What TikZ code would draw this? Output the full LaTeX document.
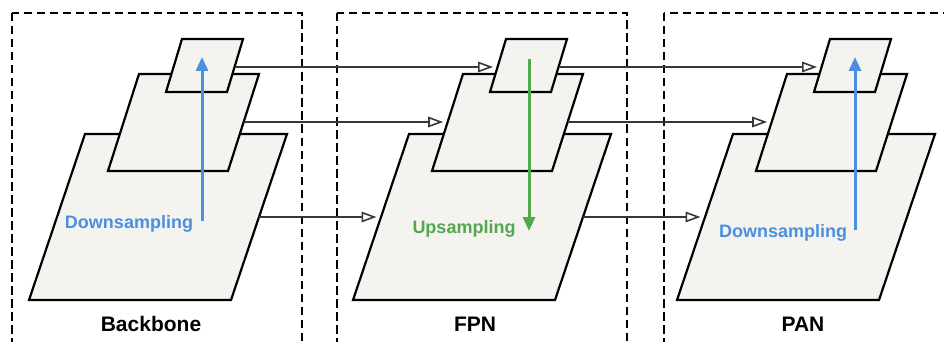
\documentclass[tikz,border=0pt]{standalone}
\usepackage{fontspec}
\setmainfont{Liberation Sans}
\usetikzlibrary{arrows.meta,calc}
\definecolor{layerfill}{HTML}{F5F3F0}
\definecolor{dsblue}{HTML}{4A8FE0}
\definecolor{usgreen}{HTML}{52A84F}
\definecolor{conn}{HTML}{383838}
\tikzset{
  layer/.style={draw=black, line width=2.2pt, fill=layerfill, line join=miter},
  panel/.style={draw=black, line width=2pt, dash pattern=on 8.5pt off 4.5pt},
  link/.style={draw=conn, line width=1.6pt, -{Triangle[open,length=15pt,width=10.5pt,fill=white]}, shorten >=4.5pt},
  flowblue/.style={draw=dsblue, line width=3pt, -{Triangle[length=14pt,width=12pt]}},
  flowgreen/.style={draw=usgreen, line width=3pt, -{Triangle[length=14pt,width=12pt]}},
  title/.style={font=\bfseries\fontsize{21}{25}\selectfont, anchor=base, inner sep=0pt},
  flowtext/.style={font=\bfseries\fontsize{18}{22}\selectfont, anchor=base, inner sep=0pt},
}
\newcommand{\featstack}[2]{%
  % large layer
  \coordinate (#1LBL) at (29+#2,300);
  \coordinate (#1LBR) at (231+#2,300);
  \coordinate (#1LTR) at (287+#2,134);
  \coordinate (#1LTL) at (85+#2,134);
  % middle layer
  \coordinate (#1MBL) at (108+#2,171);
  \coordinate (#1MBR) at (228+#2,171);
  \coordinate (#1MTR) at (259+#2,74);
  \coordinate (#1MTL) at (139+#2,74);
  % small layer
  \coordinate (#1SBL) at (166+#2,92);
  \coordinate (#1SBR) at (227+#2,92);
  \coordinate (#1STR) at (243+#2,39);
  \coordinate (#1STL) at (182+#2,39);
  \draw[layer] (#1LBL) -- (#1LBR) -- (#1LTR) -- (#1LTL) -- cycle;
  \draw[layer] (#1MBL) -- (#1MBR) -- (#1MTR) -- (#1MTL) -- cycle;
  \draw[layer] (#1SBL) -- (#1SBR) -- (#1STR) -- (#1STL) -- cycle;
  \coordinate (#1Sr) at ($(#1SBR)!0.4717!(#1STR)$);
  \coordinate (#1Sl) at ($(#1SBL)!0.4717!(#1STL)$);
  \coordinate (#1Mr) at ($(#1MBR)!0.5052!(#1MTR)$);
  \coordinate (#1Ml) at ($(#1MBL)!0.5052!(#1MTL)$);
  \coordinate (#1Lr) at ($(#1LBR)!0.5!(#1LTR)$);
  \coordinate (#1Ll) at ($(#1LBL)!0.5!(#1LTL)$);
}
\begin{document}
\begin{tikzpicture}[x=1pt,y=-1pt]
\useasboundingbox (0,0) rectangle (944,342);
\fill[white] (0,0) rectangle (944,342);
\clip (0,0) rectangle (944,342);
% panels
\draw[panel] (12,13) rectangle (302,370);
\draw[panel] (337,13) rectangle (627,370);
\draw[panel] (664,13) rectangle (990,370);
% feature stacks
\featstack{b}{0}
\featstack{f}{324}
\featstack{p}{648}
% lateral connections
\draw[link] (bSr) -- (fSl);
\draw[link] (bMr) -- (fMl);
\draw[link] (bLr) -- (fLl);
\draw[link] (fSr) -- (pSl);
\draw[link] (fMr) -- (pMl);
\draw[link] (fLr) -- (pLl);
% flow arrows
\coordinate (bflow0) at (202,221);
\coordinate (bflow1) at (202,57);
\coordinate (fflow0) at (529,59);
\coordinate (fflow1) at (529,231);
\coordinate (pflow0) at (855,230);
\coordinate (pflow1) at (855,57);
\draw[flowblue] (bflow0) -- (bflow1);
\draw[flowgreen] (fflow0) -- (fflow1);
\draw[flowblue] (pflow0) -- (pflow1);
% texts
\node[flowtext, text=dsblue] (bdown) at (129,228) {Downsampling};
\node[flowtext, text=usgreen] (fup) at (464,233) {Upsampling};
\node[flowtext, text=dsblue] (pdown) at (783,237) {Downsampling};
\node[title] (bname) at (151,331) {Backbone};
\node[title] (fname) at (475,331) {FPN};
\node[title] (pname) at (803,331) {PAN};
\end{tikzpicture}
\end{document}
